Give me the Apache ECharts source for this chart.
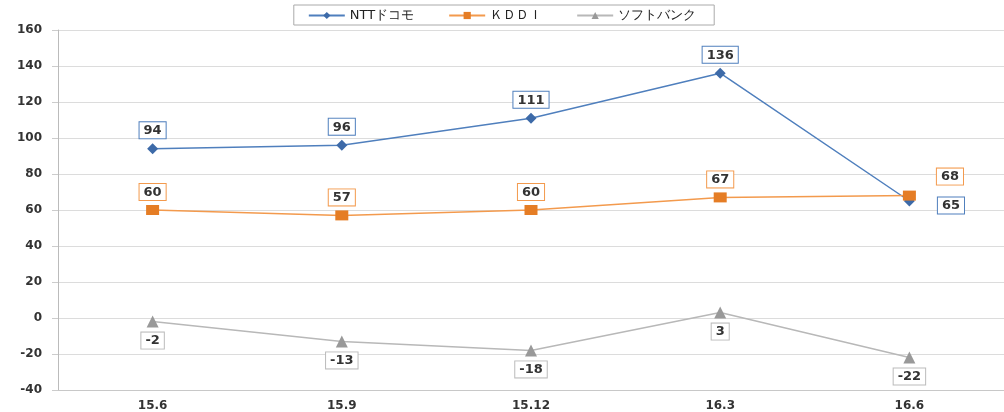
<!DOCTYPE html>
<html><head><meta charset="utf-8">
<script src="https://cdn.jsdelivr.net/npm/echarts@6/dist/echarts.min.js"></script>
<style>html,body{margin:0;padding:0;background:#fff}#c{width:1004px;height:412px}</style>
</head><body><div id="c"></div>
<script>
const categories = ['15.6','15.9','15.12','16.3','16.6'];
const seriesNames = ['NTTドコモ','ＫＤＤＩ','ソフトバンク'];
const docomo = [94, 96, 111, 136, 65];
const kddi = [60, 57, 60, 67, 68];
const softbank = [-2, -13, -18, 3, -22];
const yTicks = {min: -40, max: 160, interval: 20};

const chart = echarts.init(document.getElementById('c'));
function lbl(color, pos) {
  return {show: true, position: pos, distance: 5, color: '#333', fontSize: 13, fontWeight: 'bold',
    fontFamily: 'DejaVu Sans', backgroundColor: '#fff', borderColor: color, borderWidth: 1,
    padding: [2, 4, 1, 4]};
}
const docomoData = docomo.map((v, i) => i === 4 ? {value: v, label: {position: [34, 2]}} : v);
const kddiData = kddi.map((v, i) => i === 4 ? {value: v, label: {position: [34, -22]}} : v);
chart.setOption({
  animation: false,
  legend: {top: 5, left: 'center', itemGap: 34, itemWidth: 36, itemHeight: 9,
    borderColor: '#aaa', borderWidth: 1, padding: [4, 18, 3, 14],
    textStyle: {fontFamily: 'DejaVu Sans', fontSize: 13, color: '#222'},
    data: seriesNames},
  grid: {left: 58, right: -6, top: 30, bottom: 22},
  xAxis: {type: 'category', data: categories, boundaryGap: true,
    axisLine: {onZero: false, lineStyle: {color: '#c8c8c8'}}, axisTick: {show: false},
    axisLabel: {color: '#333', fontSize: 12, fontWeight: 'bold', fontFamily: 'DejaVu Sans', margin: 10}},
  yAxis: {type: 'value', min: yTicks.min, max: yTicks.max, interval: yTicks.interval,
    axisLine: {show: true, lineStyle: {color: '#bbb'}}, axisTick: {show: true, length: 6, lineStyle: {color: '#ccc'}},
    splitLine: {lineStyle: {color: '#dcdcdc'}},
    axisLabel: {color: '#333', fontSize: 12, fontWeight: 'bold', fontFamily: 'DejaVu Sans', margin: 16}},
  series: [
    {name: seriesNames[0], type: 'line', data: docomoData, symbol: 'diamond', symbolSize: 11,
      lineStyle: {color: '#4f7fbd', width: 1.5}, itemStyle: {color: '#3d6aa8'},
      label: lbl('#4f7fbd', 'top'), z: 3},
    {name: seriesNames[1], type: 'line', data: kddiData, symbol: 'rect', symbolSize: [13, 10],
      lineStyle: {color: '#f39a4d', width: 1.5}, itemStyle: {color: '#e57d25'},
      label: lbl('#f39a4d', 'top'), z: 4},
    {name: seriesNames[2], type: 'line', data: softbank, symbol: 'triangle', symbolSize: 12,
      lineStyle: {color: '#b8b8b8', width: 1.5}, itemStyle: {color: '#999'},
      label: lbl('#bbb', 'bottom'), z: 2}
  ]
});
</script></body></html>
